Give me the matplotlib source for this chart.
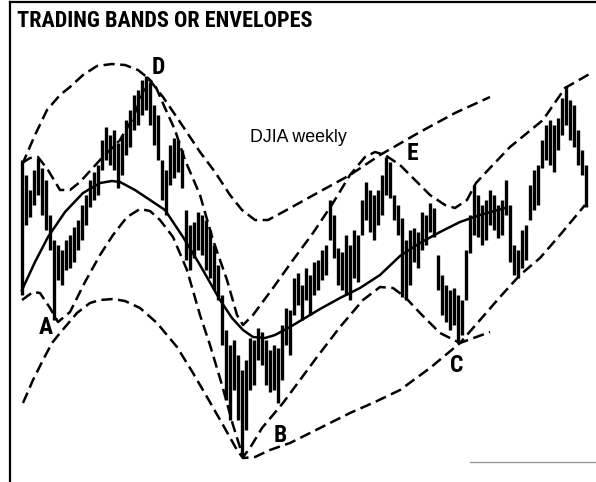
import matplotlib
matplotlib.use("Agg")
import matplotlib.pyplot as plt

# weekly DJIA bars: week number, high, low (chart units)
weeks = list(range(142))
highs = [320, 305, 290, 310, 322, 312, 300, 265, 240, 235,
         230, 240, 245, 253, 260, 275, 285, 300, 308, 315,
         340, 353, 345, 350, 337, 345, 360, 370, 385, 390,
         400, 404, 398, 375, 365, 320, 310, 335, 342, 340,
         330, 270, 255, 258, 268, 265, 260, 250, 235, 215,
         185, 150, 135, 140, 125, 110, 120, 142, 140, 152,
         148, 140, 130, 135, 132, 155, 172, 170, 202, 207,
         195, 212, 205, 218, 220, 230, 235, 280, 265, 232,
         228, 245, 235, 250, 245, 280, 298, 290, 285, 290,
         305, 323, 318, 285, 275, 262, 240, 250, 252, 248,
         268, 265, 277, 272, 225, 205, 195, 190, 192, 185,
         180, 230, 265, 295, 285, 275, 280, 290, 285, 275,
         280, 300, 275, 235, 230, 250, 255, 295, 310, 315,
         340, 355, 360, 355, 362, 382, 394, 380, 375, 350,
         330, 315]
lows = [185, 255, 263, 275, 285, 265, 250, 230, 160, 200,
        195, 210, 212, 218, 230, 240, 255, 273, 280, 285,
        310, 320, 315, 310, 292, 305, 325, 333, 350, 355,
        365, 370, 355, 335, 320, 280, 265, 295, 302, 308,
        292, 220, 210, 222, 230, 225, 210, 202, 190, 180,
        135, 80, 60, 90, 60, 25, 50, 90, 95, 120,
        115, 95, 88, 90, 77, 100, 135, 125, 165, 175,
        160, 180, 165, 185, 190, 200, 205, 240, 222, 195,
        190, 185, 180, 202, 198, 245, 260, 248, 240, 255,
        265, 285, 282, 260, 245, 183, 180, 195, 218, 212,
        230, 235, 248, 243, 190, 165, 158, 150, 155, 137,
        145, 180, 227, 245, 243, 235, 240, 255, 250, 242,
        245, 265, 218, 205, 202, 212, 220, 260, 270, 275,
        312, 320, 315, 308, 330, 345, 355, 340, 333, 315,
        305, 273]

# hand-drawn envelopes (week, level)
outer_up_x = [0, 3.25, 6.25, 9.5, 12, 15.25, 18.75, 22.5, 25.75, 29, 31.5, 35.25,
              39.5, 44.5, 48.25, 52, 55, 58.25, 61.5, 65.25, 72, 82, 89.5, 99.5,
              108.25, 117]
outer_up_y = [315, 345, 370, 385, 393, 405, 414, 416, 415, 410, 402, 383,
              358, 328, 308, 285, 270, 260, 260, 268, 283, 305, 325, 348,
              367, 383]

inner_up_x = [0, 2, 4, 6.5, 9.5, 12, 14.5, 19.5, 24.5, 27.75, 30, 31.5, 33.25,
              35.75, 38.25, 40.75, 44.5, 47.75, 51.25, 53.75, 55.25, 57.75,
              62.75, 67.75, 72.75, 77.75, 82, 85.75, 88.25, 90.75, 94.5, 98.25,
              102, 105.75, 108.25, 111.25, 113.5, 117, 122, 130.25, 135.75, 142.75]
inner_up_y = [317, 322, 323, 310, 290, 290, 298, 320, 340, 362, 385, 402, 395,
              372, 350, 320, 285, 240, 200, 165, 155, 165,
              192, 220, 247, 277, 305, 323, 328, 325, 315, 300,
              285, 275, 272, 280, 297, 312, 333, 360, 392, 408]

avg_x = [0, 3.25, 6.5, 10.75, 15.25, 19.5, 22.5, 24.5, 28.25, 32, 35.75, 40.25,
         44.5, 49.5, 52.5, 55.25, 57.75, 60.75, 63.25, 67, 70.75, 74.5, 79.5,
         84.5, 89.5, 94.5, 99.5, 104.5, 109.5, 114.5, 120.75]
avg_y = [190, 218, 243, 268, 287, 297, 299, 298, 290, 280, 270, 243,
         215, 180, 162, 150, 143, 142, 145, 153, 162, 171, 182,
         192, 205, 224, 237, 248, 258, 265, 272]

inner_lo_x = [0, 2.75, 4.5, 7, 9, 12, 15.75, 19.5, 22.75, 26.25, 29.5, 32, 34.5,
              37.75, 41.25, 44.5, 47, 50, 52.75, 55.25, 57, 60, 65.25, 69.5,
              73.75, 79.5, 85.25, 89.5, 92.75, 95.75, 99.5, 104.5, 109.5, 114.5,
              119.5, 124.5, 129.5, 134.5, 140.75]
inner_lo_y = [180, 188, 187, 172, 158, 168, 198, 225, 245, 263, 271, 269, 260,
              243, 210, 165, 135, 95, 55, 23, 32, 52, 77, 100,
              123, 153, 180, 193, 192, 183, 167, 147, 137, 160,
              183, 205, 222, 245, 275]

outer_lo_x = [0.25, 2.75, 5.25, 7.5, 9.5, 13.75, 17, 19.5, 22.75, 25.75, 29.5,
              33.75, 38.75, 42.75, 46.25, 50.25, 53.75, 55.25, 58.25, 62, 67,
              74.5, 82, 88.25, 94.5, 102, 109.5, 117]
outer_lo_y = [77, 100, 120, 137, 147, 167, 177, 180, 181, 179, 172,
              157, 133, 107, 83, 55, 30, 22, 23, 30, 37,
              52, 67, 78, 90, 112, 137, 148]

# turning points
point_names = ["A", "B", "C", "D", "E"]
point_x = [6, 64.5, 108.75, 34, 97.5]
point_y = [152, 45, 115, 412, 327]

fig = plt.figure(figsize=(5.96, 4.82), dpi=100)
ax = fig.add_axes([0, 0, 1, 1])
ax.set_xlim(-5.5, 143.5)
ax.set_ylim(-2, 480)
ax.axis("off")

ax.vlines(weeks, lows, highs, color="black", lw=2.4)

dash = (0, (4.5, 2.2))
for xs, ys in [(outer_up_x, outer_up_y), (inner_up_x, inner_up_y),
               (inner_lo_x, inner_lo_y), (outer_lo_x, outer_lo_y)]:
    ax.plot(xs, ys, color="black", lw=1.8, linestyle=dash)
ax.plot(avg_x, avg_y, color="black", lw=1.8)

bold = ["Roboto Condensed", "Liberation Sans Narrow", "Liberation Sans", "DejaVu Sans"]
for name, x, y in zip(point_names, point_x, point_y):
    ax.text(x, y, name, family=bold, fontweight="bold", fontsize=17,
            ha="center", va="center")

ax.text(69, 342, "DJIA weekly", family=["Liberation Sans", "DejaVu Sans"],
        fontsize=12.8, ha="center", va="center")

fig.text(17 / 596, 1 - 21 / 482, "TRADING BANDS OR ENVELOPES", family=bold,
         fontweight="bold", fontsize=16, ha="left", va="center")

# frame of the clipping
fig.add_artist(plt.Line2D([10 / 596, 10 / 596], [0, 1 - 2 / 482], color="black", lw=1.6))
fig.add_artist(plt.Line2D([10 / 596, 1], [1 - 2 / 482, 1 - 2 / 482], color="black", lw=1.6))
fig.add_artist(plt.Line2D([470 / 596, 1], [1 - 462 / 482, 1 - 462 / 482], color="0.6", lw=1))

fig.savefig("out.png", dpi=100)
